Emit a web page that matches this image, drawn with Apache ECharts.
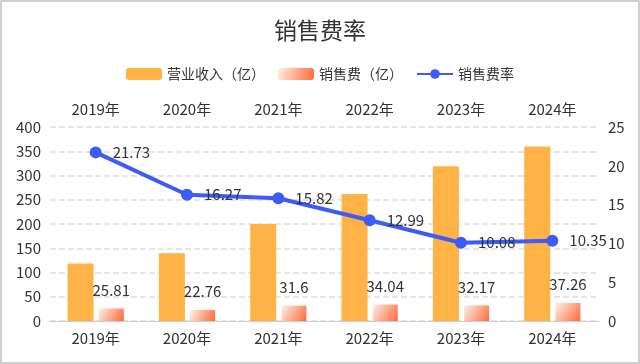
<!DOCTYPE html>
<html><head><meta charset="utf-8">
<script src="https://cdn.jsdelivr.net/npm/echarts@6/dist/echarts.min.js"></script>
<style>html,body{margin:0;padding:0;background:#fff}#c{width:636px;height:360px;border:2px solid #d0d0d0;}</style>
</head><body><div id="c"></div>
<script>
const years = ['2019年','2020年','2021年','2022年','2023年','2024年'];
const revenue = [118.78, 139.89, 199.75, 262.05, 319.15, 360.0];
const salesExp = [25.81, 22.76, 31.6, 34.04, 32.17, 37.26];
const salesRate = [21.73, 16.27, 15.82, 12.99, 10.08, 10.35];

const chart = echarts.init(document.getElementById('c'));
const font = 'Microsoft YaHei, "Noto Sans CJK SC", sans-serif';
chart.setOption({
  textStyle:{fontFamily:font},
  title:{text:'销售费率',left:'center',top:12,textStyle:{fontSize:23,fontWeight:'normal',color:'#333',fontFamily:font}},
  legend:{top:60,itemWidth:36,itemHeight:12,itemGap:13,textStyle:{fontSize:14,color:'#333',fontFamily:font},
    data:['营业收入（亿）','销售费（亿）','销售费率']},
  grid:{left:48,right:40,top:125,bottom:41,containLabel:false},
  xAxis:[
    {type:'category',data:years,position:'bottom',axisLine:{lineStyle:{color:'#ccc'}},axisTick:{lineStyle:{color:'#ccc'}},
     axisLabel:{color:'#333',fontSize:15,margin:10}},
    {type:'category',data:years,position:'top',axisLine:{lineStyle:{color:'#ccc'}},axisTick:{lineStyle:{color:'#ccc'}},
     axisLabel:{color:'#333',fontSize:15,margin:10}}
  ],
  yAxis:[
    {type:'value',min:0,max:400,interval:50,axisLabel:{color:'#333',fontSize:15,margin:9},
     splitLine:{lineStyle:{type:'dashed',color:'#ddd',width:1.5}},axisLine:{show:false},axisTick:{show:false}},
    {type:'value',min:0,max:25,interval:5,axisLabel:{color:'#333',fontSize:15,margin:10},splitLine:{show:false},axisLine:{show:false},axisTick:{show:false}}
  ],
  series:[
    {name:'营业收入（亿）',type:'bar',data:revenue,barWidth:26,barGap:'20%',itemStyle:{color:'#ffb246'}},
    {name:'销售费（亿）',type:'bar',data:salesExp,barWidth:25,
     itemStyle:{color:new echarts.graphic.LinearGradient(0,0,1,1,[{offset:0,color:'#fff0ea'},{offset:1,color:'#ff6a36'}])},
     label:{show:true,position:'top',distance:11,color:'#333',fontSize:15}},
    {name:'销售费率',type:'line',yAxisIndex:1,data:salesRate,symbol:'circle',symbolSize:12,
     lineStyle:{width:4,color:'#3d5cf5'},itemStyle:{color:'#3d5cf5'},
     label:{show:true,position:'right',distance:11,color:'#333',fontSize:15}}
  ]
});
</script></body></html>
